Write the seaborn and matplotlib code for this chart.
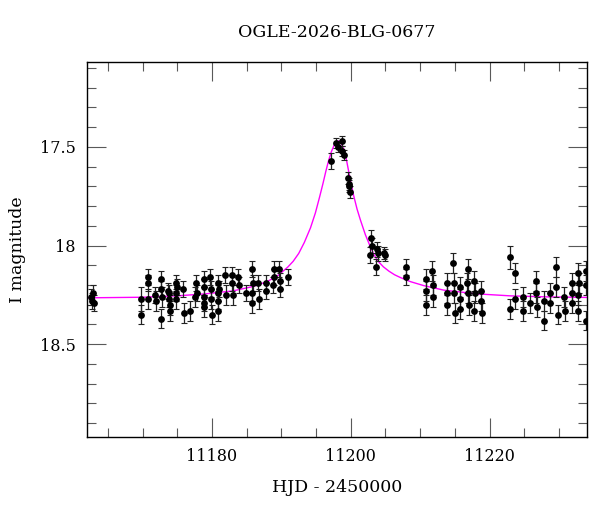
import numpy as np
import pandas as pd
import matplotlib
matplotlib.use("Agg")
import matplotlib.pyplot as plt
import seaborn as sns
from matplotlib.ticker import MultipleLocator, FuncFormatter

# photometry (HJD - 2450000, I mag, error)
hjd = [11162.6, 11162.7, 11162.9, 11163.0,
       11169.8, 11169.8, 11170.8, 11170.8, 11170.8, 11171.8, 11171.9,
       11172.7, 11172.7, 11172.8, 11172.7, 11173.7, 11173.8, 11173.9, 11173.9, 11173.8,
       11174.8, 11174.8, 11174.8, 11175.0, 11175.9, 11176.0, 11176.8,
       11177.7, 11177.8, 11177.6, 11178.8, 11178.9, 11178.8, 11178.9, 11178.8,
       11179.7, 11179.8, 11179.9, 11180.0, 11180.9, 11180.9, 11180.9, 11181.0, 11180.8,
       11181.9, 11182.0, 11182.9, 11182.9, 11183.0, 11183.8, 11183.9, 11184.9,
       11185.8, 11185.9, 11185.8, 11185.8, 11186.7, 11186.8, 11187.8, 11187.8,
       11188.9, 11188.9, 11188.8, 11189.7, 11189.8, 11189.8, 11190.9,
       11197.1, 11197.9, 11198.1, 11198.8, 11198.8, 11199.0,
       11199.6, 11199.7, 11199.8, 11199.9,
       11202.9, 11203.0, 11202.8, 11203.8, 11203.7, 11203.9, 11204.8, 11204.9,
       11207.9, 11207.9,
       11210.8, 11210.8, 11210.8, 11211.7, 11211.8, 11211.8,
       11213.8, 11213.9, 11213.8, 11214.7, 11214.8, 11214.9, 11215.0,
       11215.7, 11215.8, 11215.7, 11216.9, 11216.8, 11216.9, 11217.0,
       11217.8, 11217.9, 11217.8, 11218.8, 11218.8, 11218.9,
       11222.9, 11222.9, 11223.7, 11223.7, 11224.8, 11224.8, 11225.8,
       11226.7, 11226.7, 11226.8, 11227.8, 11227.8, 11228.7, 11228.7,
       11229.6, 11229.6, 11229.8, 11230.7, 11230.8,
       11231.8, 11231.8, 11231.8, 11232.7, 11232.9, 11232.7, 11232.8,
       11233.9, 11233.9, 11233.9]
mag = [18.26, 18.28, 18.24, 18.29,
       18.27, 18.35, 18.16, 18.19, 18.27, 18.25, 18.28,
       18.17, 18.22, 18.26, 18.37, 18.23, 18.24, 18.30, 18.33, 18.27,
       18.19, 18.24, 18.27, 18.21, 18.22, 18.34, 18.33,
       18.19, 18.24, 18.26, 18.17, 18.21, 18.26, 18.31, 18.29,
       18.16, 18.22, 18.27, 18.35, 18.19, 18.24, 18.33, 18.22, 18.28,
       18.15, 18.25, 18.15, 18.19, 18.25, 18.16, 18.20, 18.24,
       18.12, 18.19, 18.24, 18.29, 18.19, 18.27, 18.19, 18.23,
       18.12, 18.16, 18.20, 18.12, 18.18, 18.22, 18.16,
       17.57, 17.48, 17.50, 17.47, 17.52, 17.54,
       17.66, 17.69, 17.70, 17.73,
       17.96, 18.00, 18.05, 18.02, 18.11, 18.04, 18.04, 18.05,
       18.11, 18.16,
       18.17, 18.23, 18.30, 18.13, 18.20, 18.26,
       18.19, 18.24, 18.30, 18.09, 18.19, 18.24, 18.34,
       18.21, 18.27, 18.32, 18.12, 18.19, 18.24, 18.30,
       18.18, 18.24, 18.33, 18.23, 18.28, 18.34,
       18.06, 18.32, 18.14, 18.27, 18.26, 18.33, 18.29,
       18.18, 18.24, 18.31, 18.28, 18.38, 18.24, 18.29,
       18.11, 18.21, 18.35, 18.26, 18.33,
       18.19, 18.24, 18.29, 18.14, 18.19, 18.25, 18.33,
       18.13, 18.20, 18.38]
err = [0.04, 0.04, 0.04, 0.04,
       0.06, 0.05, 0.04, 0.04, 0.05, 0.04, 0.05,
       0.04, 0.04, 0.05, 0.05, 0.04, 0.04, 0.05, 0.05, 0.04,
       0.04, 0.04, 0.05, 0.04, 0.04, 0.05, 0.05,
       0.04, 0.04, 0.05, 0.04, 0.04, 0.05, 0.05, 0.04,
       0.04, 0.04, 0.05, 0.05, 0.04, 0.04, 0.05, 0.04, 0.04,
       0.04, 0.05, 0.04, 0.04, 0.05, 0.04, 0.04, 0.04,
       0.04, 0.04, 0.04, 0.05, 0.04, 0.05, 0.04, 0.04,
       0.04, 0.04, 0.04, 0.04, 0.04, 0.04, 0.04,
       0.04, 0.025, 0.025, 0.025, 0.025, 0.025,
       0.03, 0.03, 0.03, 0.03,
       0.04, 0.04, 0.04, 0.04, 0.04, 0.04, 0.03, 0.03,
       0.04, 0.04,
       0.05, 0.05, 0.05, 0.05, 0.05, 0.05,
       0.05, 0.05, 0.05, 0.05, 0.05, 0.05, 0.05,
       0.05, 0.05, 0.05, 0.05, 0.05, 0.05, 0.05,
       0.05, 0.05, 0.05, 0.05, 0.05, 0.05,
       0.06, 0.05, 0.05, 0.05, 0.05, 0.05, 0.05,
       0.05, 0.05, 0.05, 0.05, 0.05, 0.05, 0.05,
       0.05, 0.05, 0.05, 0.05, 0.05,
       0.05, 0.05, 0.05, 0.05, 0.05, 0.05, 0.05,
       0.05, 0.05, 0.05]

# model light curve
model_hjd = [11162.0, 11170.0, 11175.0, 11179.0, 11183.0, 11186.0, 11188.0, 11189.5,
             11190.9, 11191.7, 11192.5, 11193.3, 11194.2, 11194.9, 11195.5, 11196.0,
             11196.4, 11196.8, 11197.2, 11197.6, 11197.9, 11198.2, 11198.5, 11198.8,
             11199.1, 11199.4, 11199.7, 11200.0, 11200.4, 11200.9, 11201.4, 11202.1,
             11202.8, 11203.4, 11204.0, 11204.7, 11205.5, 11206.3, 11207.2, 11208.6,
             11210.5, 11213.4, 11218.2, 11223.0, 11228.0, 11234.0]
model_mag = [18.265, 18.262, 18.255, 18.245, 18.23, 18.207, 18.182, 18.152,
             18.11, 18.08, 18.04, 17.985, 17.91, 17.835, 17.755, 17.685,
             17.625, 17.57, 17.525, 17.492, 17.476, 17.47, 17.476, 17.495,
             17.525, 17.57, 17.625, 17.68, 17.745, 17.815, 17.872, 17.945,
             18.005, 18.05, 18.082, 18.108, 18.13, 18.148, 18.163, 18.183,
             18.203, 18.226, 18.245, 18.255, 18.26, 18.263]

event_name = "OGLE-2026-BLG-0677"

df = pd.DataFrame({"hjd": hjd, "mag": mag, "err": err})
model = pd.DataFrame({"hjd": model_hjd, "mag": model_mag})

sns.set_style("ticks")
plt.rcParams["font.family"] = ["DejaVu Serif"]
plt.rcParams["text.color"] = "black"
plt.rcParams["axes.labelcolor"] = "black"
plt.rcParams["xtick.labelcolor"] = "black"
plt.rcParams["ytick.labelcolor"] = "black"

fig = plt.figure(figsize=(6, 5.12), dpi=100)
ax = fig.add_axes([0.145, 0.1465, 0.833, 0.7325])

sns.lineplot(data=model, x="hjd", y="mag", ax=ax, color="#ff00ff", lw=1.0,
             sort=False, zorder=1)
ax.errorbar(df["hjd"], df["mag"], yerr=df["err"], fmt="none", ecolor="#222222",
            elinewidth=0.9, capsize=2.3, capthick=0.8, zorder=2)
sns.scatterplot(data=df, x="hjd", y="mag", ax=ax, color="black", s=24,
                edgecolor="black", linewidth=0, zorder=3)

ax.set_xlim(11162, 11234)
ax.set_ylim(18.97, 17.07)

ax.xaxis.set_major_locator(MultipleLocator(20))
ax.xaxis.set_minor_locator(MultipleLocator(5))
ax.yaxis.set_major_locator(MultipleLocator(0.5))
ax.yaxis.set_minor_locator(MultipleLocator(0.1))
ax.yaxis.set_major_formatter(FuncFormatter(lambda v, p: f"{v:g}"))
ax.xaxis.set_major_formatter(FuncFormatter(lambda v, p: f"{v:.0f}"))

ax.tick_params(which="both", direction="in", top=True, right=True,
               color="0.35", labelsize=11.5)
ax.tick_params(which="major", length=13.5, width=0.8, pad=8)
ax.tick_params(which="minor", length=6.5, width=0.8)
for s in ax.spines.values():
    s.set_linewidth(1.0)
    s.set_color("black")

ax.set_xlabel("HJD - 2450000", fontsize=12.5, labelpad=10)
ax.set_ylabel("I magnitude", fontsize=12.5, labelpad=10)
ax.set_title(event_name, fontsize=12.5, pad=18)

fig.savefig("out.png", dpi=100)
